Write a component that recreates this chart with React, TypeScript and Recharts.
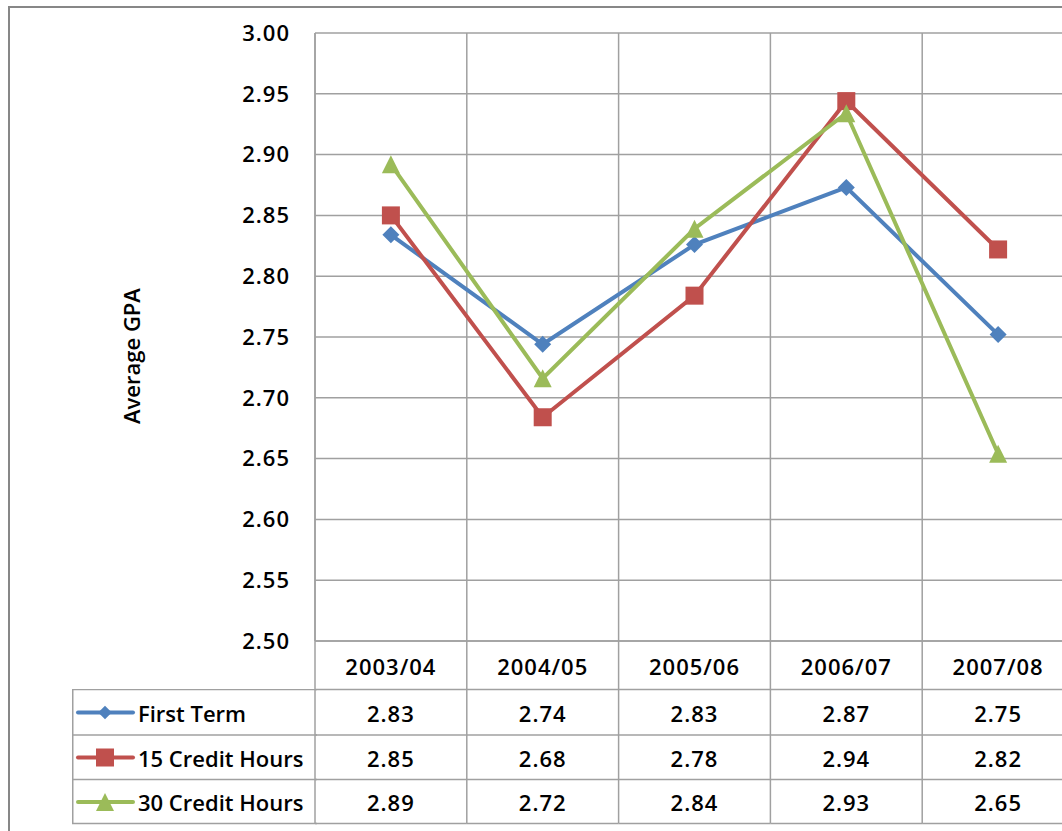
import { CartesianGrid, Legend, Line, LineChart, XAxis, YAxis } from "recharts";

const years = ["2003/04", "2004/05", "2005/06", "2006/07", "2007/08"];
const firstTerm = [2.834, 2.744, 2.826, 2.873, 2.752];
const credit15 = [2.85, 2.684, 2.784, 2.944, 2.822];
const credit30 = [2.892, 2.716, 2.839, 2.934, 2.654];
const gpaTicks = [2.5, 2.55, 2.6, 2.65, 2.7, 2.75, 2.8, 2.85, 2.9, 2.95, 3.0];

const series = [
  { key: "firstTerm", name: "First Term", color: "#4F81BD", shape: "diamond" },
  { key: "credit15", name: "15 Credit Hours", color: "#C0504D", shape: "square" },
  { key: "credit30", name: "30 Credit Hours", color: "#9BBB59", shape: "triangle" },
];

const data = years.map((year, i) => ({
  year,
  firstTerm: firstTerm[i],
  credit15: credit15[i],
  credit30: credit30[i],
}));

// layout
const FONT = "'Open Sans', 'Liberation Sans', sans-serif";
const CHART_W = 1100;
const CHART_H = 831;
const MARGIN = { top: 33, right: 26, bottom: 7, left: 0 };
const Y_AXIS_W = 315;
const X_AXIS_H = 183;
const PLOT_LEFT = MARGIN.left + Y_AXIS_W;
const PLOT_W = CHART_W - MARGIN.left - MARGIN.right - Y_AXIS_W;
const BAND = PLOT_W / years.length;
const ROW_LINES = [48.5, 94, 138.5, 182.5];
const ROW_MID = [71.5, 116.5, 161];
const GRID = "#A0A0A0";
const NUM_STYLE = { fontFamily: FONT, fontWeight: 600, fontSize: 22, letterSpacing: 1 };
const LABEL_STYLE = { fontFamily: FONT, fontWeight: 600, fontSize: 22 };

function Marker({ shape, cx, cy, color, scale = 1 }) {
  if (shape === "diamond") {
    const r = 8.5 * scale;
    return <polygon points={`${cx},${cy - r} ${cx + r},${cy} ${cx},${cy + r} ${cx - r},${cy}`} fill={color} />;
  }
  const h = 9 * scale;
  if (shape === "square") {
    return <rect x={cx - h} y={cy - h} width={2 * h} height={2 * h} fill={color} />;
  }
  return <polygon points={`${cx},${cy - h} ${cx + h},${cy + h} ${cx - h},${cy + h}`} fill={color} />;
}

// one column of the data table under each category
function TableColumn(props) {
  const { x, y, payload, index } = props;
  const left = x - BAND / 2;
  const right = x + BAND / 2;
  const row = data[index];
  return (
    <g>
      <line x1={left} x2={left} y1={y} y2={y + X_AXIS_H - 0.5} stroke={GRID} strokeWidth={1.5} />
      {index === years.length - 1 && (
        <line x1={right} x2={right} y1={y} y2={y + X_AXIS_H - 0.5} stroke={GRID} strokeWidth={1.5} />
      )}
      {ROW_LINES.map((ly) => (
        <line key={ly} x1={left} x2={right} y1={y + ly} y2={y + ly} stroke={GRID} strokeWidth={1.5} />
      ))}
      <text x={x} y={y + 25} textAnchor="middle" dominantBaseline="central" fill="#000" style={NUM_STYLE}>
        {payload.value}
      </text>
      {series.map((s, i) => (
        <text key={s.key} x={x} y={y + ROW_MID[i]} textAnchor="middle" dominantBaseline="central" fill="#000" style={NUM_STYLE}>
          {row[s.key].toFixed(2)}
        </text>
      ))}
    </g>
  );
}

function TableLegend({ payload }) {
  const items = payload || [];
  const w = PLOT_LEFT - 72;
  return (
    <svg width={w + 2} height={136} style={{ display: "block" }}>
      <line x1={0.75} x2={0.75} y1={0} y2={135} stroke={GRID} strokeWidth={1.5} />
      {[0.5, 46, 90.5, 134.5].map((ly) => (
        <line key={ly} x1={0} x2={w + 2} y1={ly} y2={ly} stroke={GRID} strokeWidth={1.5} />
      ))}
      {series.map((s, i) => {
        const entry = items.find((d) => d.dataKey === s.key);
        const cy = [23.5, 68.5, 113][i];
        return (
          <g key={s.key}>
            <line x1={6} x2={61} y1={cy} y2={cy} stroke={s.color} strokeWidth={4} strokeLinecap="round" />
            <Marker shape={s.shape} cx={33} cy={cy} color={s.color} scale={s.shape === "diamond" ? 0.8 : 1} />
            <text x={66} y={cy} dominantBaseline="central" fill="#000" style={LABEL_STYLE}>
              {entry ? entry.value : s.name}
            </text>
          </g>
        );
      })}
    </svg>
  );
}

function YTitle() {
  return (
    <text
      x={131}
      y={356}
      transform="rotate(-90 131 356)"
      textAnchor="middle"
      dominantBaseline="central"
      fill="#000"
      style={LABEL_STYLE}
    >
      Average GPA
    </text>
  );
}

export default function App() {
  return (
    <div style={{ position: "fixed", left: 0, top: 0, width: 1062, height: 831, overflow: "hidden", background: "#fff" }}>
      <div
        style={{
          position: "absolute",
          left: 8,
          top: 6,
          width: 1200,
          height: 900,
          border: "2px solid #878787",
        }}
      />
      <div style={{ position: "absolute", left: 0, top: 0 }}>
        <LineChart width={CHART_W} height={CHART_H} data={data} margin={MARGIN}>
          <CartesianGrid
            stroke={GRID}
            strokeWidth={1.5}
            verticalCoordinatesGenerator={() => years.map((_, i) => PLOT_LEFT + i * BAND).concat(PLOT_LEFT + PLOT_W)}
          />
          <XAxis
            dataKey="year"
            scale="band"
            height={X_AXIS_H}
            interval={0}
            tickLine={false}
            tickSize={0}
            tickMargin={0}
            axisLine={{ stroke: GRID, strokeWidth: 1.5 }}
            tick={<TableColumn />}
          />
          <YAxis
            type="number"
            domain={[2.5, 3.0]}
            ticks={gpaTicks}
            interval={0}
            width={Y_AXIS_W}
            tickLine={false}
            tickMargin={19}
            axisLine={{ stroke: GRID, strokeWidth: 1.5 }}
            tickFormatter={(v) => v.toFixed(2)}
            tick={{ fill: "#000", ...NUM_STYLE }}
            label={<YTitle />}
          />
          <Legend
            layout="horizontal"
            align="center"
            verticalAlign="middle"
            content={<TableLegend />}
            wrapperStyle={{ left: 72, top: 689, width: PLOT_LEFT - 70, height: 136 }}
          />
          {series.map((s) => (
            <Line
              key={s.key}
              type="linear"
              dataKey={s.key}
              name={s.name}
              stroke={s.color}
              strokeWidth={4}
              dot={(p) => <Marker key={`${s.key}-${p.index}`} shape={s.shape} cx={p.cx} cy={p.cy} color={s.color} />}
              activeDot={false}
              isAnimationActive={false}
            />
          ))}
        </LineChart>
      </div>
    </div>
  );
}
